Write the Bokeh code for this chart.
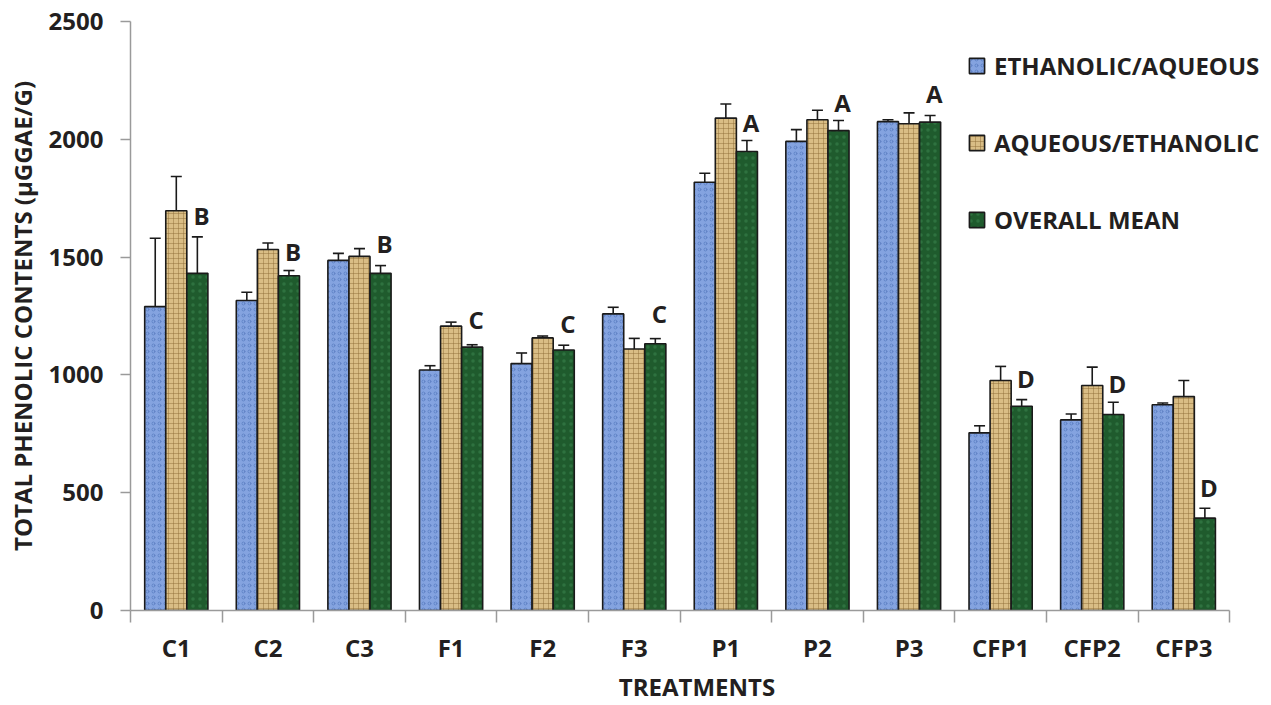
from bokeh.plotting import figure
from bokeh.models import ColumnDataSource, Whisker, TeeHead, FixedTicker, Legend, LegendItem, Range1d
from bokeh.core.properties import value
from bokeh.embed import file_html
from bokeh.resources import INLINE

treatments = ["C1", "C2", "C3", "F1", "F2", "F3", "P1", "P2", "P3", "CFP1", "CFP2", "CFP3"]
eth_aq = [1290, 1316, 1486, 1021, 1048, 1259, 1818, 1991, 2075, 754, 809, 873]
eth_aq_err = [290, 35, 30, 18, 45, 28, 38, 50, 8, 30, 25, 8]
aq_eth = [1697, 1532, 1503, 1207, 1157, 1110, 2090, 2083, 2066, 976, 955, 908]
aq_eth_err = [145, 28, 33, 17, 8, 45, 60, 40, 46, 60, 78, 68]
overall = [1431, 1421, 1431, 1118, 1106, 1132, 1948, 2037, 2073, 867, 832, 392]
overall_err = [155, 22, 33, 10, 20, 22, 47, 43, 28, 28, 52, 42]
letters = ["B", "B", "B", "C", "C", "C", "A", "A", "A", "D", "D", "D"]
letter_y = [1676, 1525, 1557, 1235, 1218, 1260, 2070, 2156, 2194, 985, 963, 522]
series_names = ["ETHANOLIC/AQUEOUS", "AQUEOUS/ETHANOLIC", "OVERALL MEAN"]
y_ticks = [0, 500, 1000, 1500, 2000, 2500]

FONT = "Open Sans"
TXT = "#231f20"
AX = "#9a9a9a"
FS = "24px"
n = len(treatments)
centers = [i + 0.5 for i in range(n)]
bw = 0.23

p = figure(frame_width=1133, frame_height=589, x_range=Range1d(0, 12.37), y_range=Range1d(0, 2500),
           output_backend="svg", toolbar_location=None,
           min_border_left=130, min_border_right=8, min_border_top=21, min_border_bottom=90)
p.xgrid.grid_line_color = None
p.ygrid.grid_line_color = None
p.outline_line_color = None
p.background_fill_color = "white"

styles = [
    dict(fill_color="#84a3e0", hatch_pattern="ring", hatch_color="#3f63ad", hatch_alpha=0.45, hatch_scale=6),
    dict(fill_color="#d9bd85", hatch_pattern="cross", hatch_color="#8c6a35", hatch_alpha=0.45, hatch_scale=5),
    dict(fill_color="#1f5b2d", hatch_pattern="dot", hatch_color="#3d8a52", hatch_alpha=0.5, hatch_scale=7),
]
series = [(eth_aq, eth_aq_err), (aq_eth, aq_eth_err), (overall, overall_err)]
offsets = [-bw, 0.0, bw]
renderers = []
for (vals, errs), off, st in zip(series, offsets, styles):
    xs = [c + off for c in centers]
    src = ColumnDataSource(dict(x=xs, top=vals,
                                upper=[v + e for v, e in zip(vals, errs)],
                                lower=[v - e for v, e in zip(vals, errs)]))
    r = p.vbar(x="x", top="top", width=bw, source=src, line_color="#1a1a1a", line_width=1.6, **st)
    renderers.append(r)
    w = Whisker(source=src, base="x", upper="upper", lower="lower",
                line_color="#1a1a1a", line_width=1.6,
                upper_head=TeeHead(size=11, line_color="#1a1a1a", line_width=1.6),
                lower_head=TeeHead(size=11, line_color="#1a1a1a", line_width=1.6))
    p.add_layout(w)

lsrc = ColumnDataSource(dict(x=[c + bw + 0.045 for c in centers], y=letter_y, text=letters))
p.text(x="x", y="y", text="text", source=lsrc, text_font=value(FONT), text_font_style="bold",
       text_font_size=FS, text_align="center", text_baseline="middle", text_color=TXT)

legend = Legend(items=[LegendItem(label=nm, renderers=[r]) for nm, r in zip(series_names, renderers)],
                location=(837, 374), orientation="vertical",
                padding=0, margin=0, spacing=44, glyph_width=19, glyph_height=19,
                label_height=19, label_standoff=8, border_line_color=None,
                background_fill_alpha=0, label_text_font=FONT, label_text_font_style="bold",
                label_text_font_size=FS, label_text_color=TXT)
p.add_layout(legend, "center")

xa = p.xaxis[0]
xa.ticker = FixedTicker(ticks=centers, minor_ticks=list(range(n + 1)))
xa.major_label_overrides = {c: t for c, t in zip(centers, treatments)}
xa.bounds = (0, n)
xa.major_tick_out = 0
xa.major_tick_in = 0
xa.minor_tick_out = 12
xa.minor_tick_in = 0
xa.minor_tick_line_color = AX
xa.minor_tick_line_width = 1.5
xa.axis_line_color = AX
xa.axis_line_width = 1.5
xa.major_label_standoff = 8
xa.axis_label = "TREATMENTS"
xa.axis_label_standoff = 3

ya = p.yaxis[0]
ya.ticker = FixedTicker(ticks=y_ticks, minor_ticks=[])
ya.bounds = (0, 2500)
ya.major_tick_out = 10
ya.major_tick_in = 0
ya.major_tick_line_color = AX
ya.major_tick_line_width = 1.5
ya.axis_line_color = AX
ya.axis_line_width = 1.5
ya.major_label_standoff = 17
ya.axis_label = "TOTAL PHENOLIC CONTENTS (µGGAE/G)"
ya.axis_label_standoff = 7

for ax in (xa, ya):
    ax.major_label_text_font = FONT
    ax.major_label_text_font_style = "bold"
    ax.major_label_text_font_size = FS
    ax.major_label_text_color = TXT
    ax.axis_label_text_font = FONT
    ax.axis_label_text_font_style = "bold"
    ax.axis_label_text_font_size = FS
    ax.axis_label_text_color = TXT

open("out.html", "w").write(file_html(p, INLINE))
